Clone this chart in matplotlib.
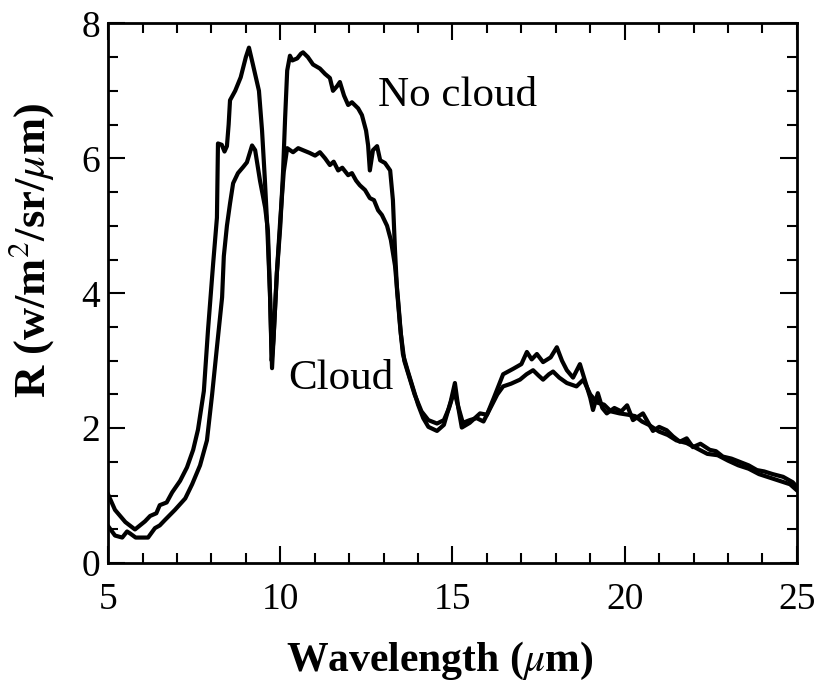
import matplotlib.pyplot as plt

# Clear-sky spectrum
wl_clear = [5.0, 5.2, 5.5, 5.78, 6.07, 6.22, 6.4, 6.5, 6.7, 6.86, 7.09, 7.29, 7.47, 7.61,
            7.78, 7.9, 8.05, 8.16, 8.19, 8.3, 8.38, 8.45, 8.5, 8.54, 8.69, 8.85, 9.0, 9.09,
            9.2, 9.38, 9.47, 9.55, 9.62, 9.7, 9.76, 9.82, 9.9, 10.0, 10.08, 10.14, 10.2,
            10.28, 10.35, 10.49, 10.6, 10.66, 10.8, 10.95, 11.15, 11.3, 11.44, 11.53, 11.65,
            11.73, 11.85, 11.97, 12.08, 12.26, 12.37, 12.49, 12.55, 12.6, 12.69, 12.81, 12.9,
            13.04, 13.19, 13.27, 13.33, 13.39, 13.48, 13.56, 13.7, 13.85, 14.0, 14.15, 14.3,
            14.55, 14.75, 14.95, 15.07, 15.17, 15.27, 15.5, 15.8, 16.0, 16.2, 16.47, 16.76,
            17.0, 17.16, 17.3, 17.45, 17.63, 17.85, 18.03, 18.18, 18.32, 18.5, 18.7, 18.85,
            19.0, 19.08, 19.22, 19.35, 19.48, 19.7, 19.9, 20.07, 20.24, 20.53, 20.82, 21.0,
            21.22, 21.4, 21.6, 21.8, 21.98, 22.2, 22.47, 22.65, 22.85, 23.1, 23.35, 23.6,
            23.84, 24.05, 24.3, 24.6, 24.88, 25.0]
r_clear = [1.02, 0.79, 0.61, 0.5, 0.62, 0.7, 0.74, 0.86, 0.9, 1.05, 1.22, 1.42, 1.68, 1.98,
           2.55, 3.45, 4.44, 5.12, 6.22, 6.2, 6.1, 6.18, 6.5, 6.86, 7.0, 7.2, 7.5, 7.64,
           7.4, 7.0, 6.41, 5.7, 5.0, 4.0, 2.89, 3.5, 4.3, 5.0, 5.8, 6.6, 7.3,
           7.52, 7.45, 7.48, 7.55, 7.57, 7.5, 7.39, 7.33, 7.25, 7.19, 7.0, 7.07,
           7.13, 6.93, 6.79, 6.83, 6.74, 6.64, 6.41, 6.19, 5.82, 6.12, 6.18, 5.97,
           5.93, 5.82, 5.38, 4.64, 4.04, 3.5, 3.1, 2.85, 2.6, 2.35, 2.15, 2.02,
           1.96, 2.05, 2.4, 2.67, 2.3, 2.01, 2.08, 2.22, 2.2, 2.45, 2.8, 2.88,
           2.95, 3.13, 3.02, 3.1, 2.98, 3.05, 3.2, 3.0, 2.86, 2.75, 2.95, 2.7,
           2.45, 2.27, 2.52, 2.3, 2.22, 2.3, 2.25, 2.34, 2.12, 2.22, 1.96, 2.02,
           1.97, 1.88, 1.8, 1.85, 1.72, 1.77, 1.68, 1.66, 1.58, 1.55, 1.5, 1.45,
           1.38, 1.36, 1.32, 1.28, 1.2, 1.13]

# Cloudy spectrum
wl_cloud = [5.0, 5.2, 5.41, 5.55, 5.64, 5.8, 5.93, 6.16, 6.36, 6.5, 6.65, 6.94, 7.24, 7.44,
            7.67, 7.87, 8.02, 8.16, 8.31, 8.36, 8.45, 8.54, 8.63, 8.77, 8.92, 9.03, 9.18,
            9.27, 9.41, 9.56, 9.64, 9.7, 9.75, 9.8, 9.9, 10.0, 10.1, 10.2, 10.37, 10.52,
            10.66, 10.85, 11.01, 11.15, 11.3, 11.44, 11.55, 11.68, 11.8, 11.97, 12.08, 12.2,
            12.31, 12.46, 12.6, 12.72, 12.84, 12.95, 13.1, 13.21, 13.33, 13.42, 13.5, 13.6,
            13.75, 13.9, 14.1, 14.3, 14.55, 14.75, 14.9, 15.05, 15.15, 15.3, 15.5, 15.7,
            15.9, 16.1, 16.3, 16.47, 16.7, 16.96, 17.15, 17.34, 17.5, 17.63, 17.8, 17.92,
            18.1, 18.32, 18.6, 18.8, 19.0, 19.2, 19.4, 19.6, 19.85, 20.1, 20.3, 20.5, 20.7,
            21.0, 21.25, 21.5, 21.8, 22.1, 22.4, 22.7, 23.0, 23.3, 23.6, 23.9, 24.2, 24.5,
            24.8, 25.0]
r_cloud = [0.55, 0.41, 0.38, 0.47, 0.44, 0.38, 0.38, 0.38, 0.52, 0.56, 0.64, 0.79, 0.96, 1.17,
           1.45, 1.82, 2.5, 3.2, 3.94, 4.55, 5.0, 5.33, 5.63, 5.78, 5.87, 5.94, 6.19,
           6.12, 5.67, 5.27, 4.93, 4.0, 3.0, 3.3, 4.3, 5.1, 5.8, 6.15, 6.09, 6.15,
           6.12, 6.08, 6.04, 6.09, 6.0, 5.9, 5.95, 5.82, 5.86, 5.75, 5.78, 5.67,
           5.6, 5.53, 5.41, 5.38, 5.23, 5.16, 5.0, 4.79, 4.41, 3.9, 3.4, 3.0,
           2.75, 2.5, 2.25, 2.12, 2.07, 2.12, 2.3, 2.55, 2.35, 2.08, 2.12, 2.15,
           2.1, 2.3, 2.5, 2.62, 2.66, 2.72, 2.8, 2.86, 2.78, 2.72, 2.8, 2.84,
           2.75, 2.67, 2.62, 2.72, 2.5, 2.38, 2.35, 2.25, 2.22, 2.2, 2.18, 2.1, 2.05,
           1.95, 1.9, 1.82, 1.78, 1.7, 1.62, 1.6, 1.52, 1.45, 1.4, 1.32, 1.27, 1.22,
           1.17, 1.08]

plt.rcParams['font.family'] = 'Liberation Serif'
plt.rcParams['mathtext.fontset'] = 'stix'

fig = plt.figure(figsize=(8.19, 6.86), dpi=100)
ax = fig.add_axes([0.132, 0.179, 0.841, 0.787])

ax.plot(wl_clear, r_clear, color='black', lw=3)
ax.plot(wl_cloud, r_cloud, color='black', lw=3)

ax.text(12.84, 6.93, "No cloud", fontsize=31, va='center', ha='left')
ax.text(10.22, 2.74, "Cloud", fontsize=31, va='center', ha='left')

ax.set_xlim(5, 25)
ax.set_ylim(0, 8)
ax.set_xticks([5, 10, 15, 20, 25])
ax.set_xticks(range(5, 26), minor=True)
ax.set_yticks([0, 2, 4, 6, 8])
ax.set_yticks([i * 0.5 for i in range(17)], minor=True)
ax.tick_params(which='both', direction='in', top=True, right=True, width=1.5, labelsize=27)
ax.tick_params(which='major', length=12)
ax.tick_params(which='minor', length=7)
ax.tick_params(axis='x', pad=14)
ax.tick_params(axis='y', pad=6)
for s in ax.spines.values():
    s.set_linewidth(2)

ax.set_xlabel(r"Wavelength ($\mu$m)", fontsize=30, fontweight='bold')
ax.set_ylabel(r"R (w/m$^2$/sr/$\mu$m)", fontsize=32, fontweight='bold')
ax.xaxis.set_label_coords(0.482, -0.143)
ax.yaxis.set_label_coords(-0.076, 0.58)

plt.savefig("out.png")
